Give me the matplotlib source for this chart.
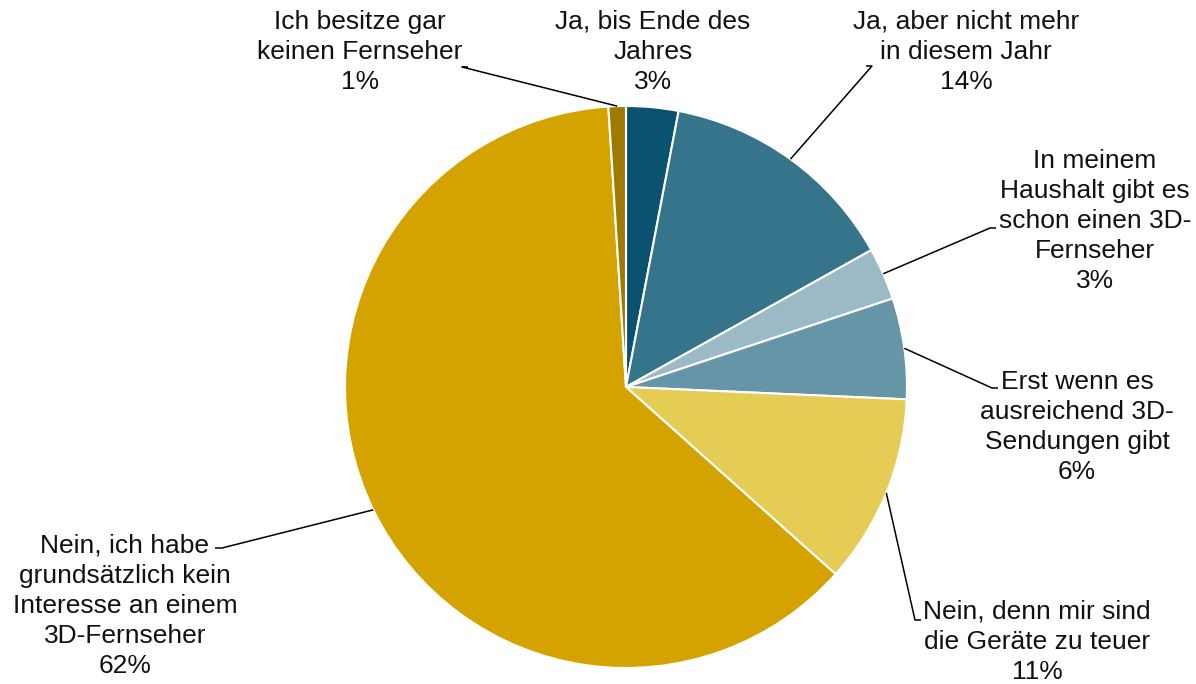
import numpy as np
import matplotlib

matplotlib.use("Agg")

import matplotlib.pyplot as plt

# Slices clockwise from 12 o'clock (shares in percent)
labels = [
    "Ja, bis Ende des\nJahres",
    "Ja, aber nicht mehr\nin diesem Jahr",
    "In meinem\nHaushalt gibt es\nschon einen 3D-\nFernseher",
    "Erst wenn es\nausreichend 3D-\nSendungen gibt",
    "Nein, denn mir sind\ndie Geräte zu teuer",
    "Nein, ich habe\ngrundsätzlich kein\nInteresse an einem\n3D-Fernseher",
    "Ich besitze gar\nkeinen Fernseher",
]
shares = [3.0, 13.9, 3.0, 5.8, 10.9, 62.4, 1.0]
colors = ["#0b5170", "#36748c", "#9bbac5", "#6695a8", "#e5cc55", "#d5a300", "#a07a00"]

# Label anchor (text centre, pixel coords from the top-left) and where the leader leaves the text
label_pos = [(653, 52), (966, 52), (1095, 221), (1077, 427), (1037, 642), (125, 606), (360, 52)]
leader_start = [None, (866, 66), (996, 228), (998, 388), (921, 620), (215, 548), (468, 67)]
leader_knee = [None, (872, 66), (990, 228), (992, 388), (915, 620), (222, 548), (462, 67)]

W, H = 1196, 684
CENTER = (626, H - 387)
RADIUS = 281

plt.rcParams["font.family"] = ["Liberation Sans", "DejaVu Sans"]

fig = plt.figure(figsize=(W / 100, H / 100), dpi=100)
ax = fig.add_axes([0, 0, 1, 1])

ax.pie(
    shares,
    colors=colors,
    startangle=90,
    counterclock=False,
    center=CENTER,
    radius=RADIUS,
    wedgeprops={"edgecolor": "white", "linewidth": 1.5},
    frame=True,
)
ax.set_xlim(0, W)
ax.set_ylim(0, H)
ax.set_aspect("equal")
ax.axis("off")

cum = np.cumsum([0] + shares)
for i, (lab, val) in enumerate(zip(labels, shares)):
    x, y = label_pos[i]
    ax.text(x, H - y, f"{lab}\n{val:.0f}%", ha="center", va="center",
            fontsize=19, linespacing=1.32, color="#111111")
    if leader_start[i] is None:
        continue
    mid = (cum[i] + cum[i + 1]) / 2 / 100 * 2 * np.pi
    ex = CENTER[0] + RADIUS * np.sin(mid)
    ey = CENTER[1] + RADIUS * np.cos(mid)
    sx, sy = leader_start[i]
    kx, ky = leader_knee[i]
    ax.plot([sx, kx, ex], [H - sy, H - ky, ey], color="black", linewidth=1.1,
            solid_capstyle="butt")

fig.savefig("out.png", dpi=100, facecolor="white")
